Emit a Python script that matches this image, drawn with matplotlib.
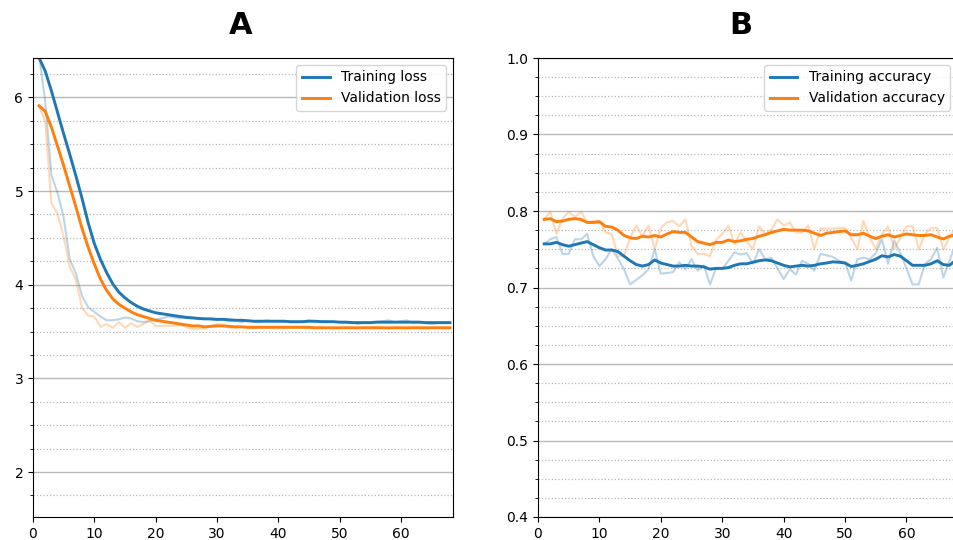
import matplotlib
matplotlib.use("Agg")
import matplotlib.pyplot as plt
from matplotlib.ticker import MultipleLocator

epochs = list(range(1, 69))

train_loss_raw = [6.45, 5.95, 5.17, 4.98, 4.72, 4.27, 4.12, 3.88, 3.76, 3.71,
                  3.66, 3.62, 3.62, 3.63, 3.65, 3.64, 3.61, 3.60, 3.61, 3.63,
                  3.64, 3.66, 3.65, 3.64, 3.66, 3.65, 3.63, 3.64, 3.63, 3.62,
                  3.63, 3.61, 3.62, 3.60, 3.62, 3.61, 3.60, 3.62, 3.61, 3.61,
                  3.60, 3.61, 3.60, 3.61, 3.62, 3.60, 3.61, 3.61, 3.60, 3.60,
                  3.59, 3.60, 3.58, 3.60, 3.59, 3.60, 3.61, 3.62, 3.60, 3.61,
                  3.62, 3.59, 3.60, 3.59, 3.58, 3.59, 3.60, 3.59]
train_loss_smooth = [6.42, 6.28, 6.07, 5.84, 5.61, 5.39, 5.16, 4.92, 4.66, 4.44,
                     4.27, 4.13, 4.01, 3.92, 3.86, 3.81, 3.77, 3.74, 3.72, 3.70,
                     3.69, 3.68, 3.67, 3.66, 3.65, 3.645, 3.64, 3.635, 3.635, 3.63,
                     3.63, 3.625, 3.62, 3.62, 3.615, 3.61, 3.61, 3.61, 3.61, 3.61,
                     3.61, 3.605, 3.605, 3.605, 3.61, 3.61, 3.605, 3.605, 3.605, 3.60,
                     3.60, 3.595, 3.595, 3.595, 3.595, 3.60, 3.60, 3.60, 3.60, 3.60,
                     3.60, 3.60, 3.60, 3.595, 3.595, 3.595, 3.595, 3.595]
val_loss_raw = [5.90, 5.74, 4.87, 4.76, 4.51, 4.19, 4.05, 3.75, 3.67, 3.66,
                3.55, 3.58, 3.54, 3.60, 3.54, 3.59, 3.55, 3.58, 3.62, 3.56,
                3.56, 3.56, 3.56, 3.57, 3.55, 3.53, 3.53, 3.53, 3.56, 3.58,
                3.57, 3.54, 3.54, 3.55, 3.54, 3.54, 3.55, 3.54, 3.54, 3.55,
                3.54, 3.54, 3.55, 3.54, 3.54, 3.54, 3.55, 3.54, 3.53, 3.54,
                3.54, 3.54, 3.53, 3.54, 3.54, 3.55, 3.54, 3.53, 3.54, 3.54,
                3.53, 3.54, 3.54, 3.53, 3.54, 3.54, 3.53, 3.54]
val_loss_smooth = [5.91, 5.85, 5.68, 5.48, 5.27, 5.05, 4.83, 4.60, 4.40, 4.22,
                   4.06, 3.94, 3.85, 3.79, 3.75, 3.71, 3.68, 3.66, 3.64, 3.62,
                   3.61, 3.60, 3.59, 3.58, 3.57, 3.56, 3.56, 3.55, 3.555, 3.56,
                   3.56, 3.555, 3.55, 3.55, 3.545, 3.545, 3.545, 3.545, 3.545, 3.545,
                   3.545, 3.545, 3.545, 3.545, 3.545, 3.54, 3.54, 3.54, 3.54, 3.54,
                   3.54, 3.54, 3.54, 3.54, 3.54, 3.54, 3.54, 3.54, 3.54, 3.54,
                   3.54, 3.54, 3.54, 3.54, 3.54, 3.54, 3.54, 3.54]

train_acc_raw = [0.757, 0.763, 0.766, 0.744, 0.744, 0.763, 0.763, 0.770, 0.741, 0.728,
                 0.737, 0.750, 0.738, 0.724, 0.704, 0.710, 0.716, 0.724, 0.750, 0.718,
                 0.719, 0.720, 0.733, 0.724, 0.737, 0.722, 0.729, 0.704, 0.725, 0.724,
                 0.735, 0.746, 0.743, 0.745, 0.731, 0.750, 0.737, 0.739, 0.725, 0.711,
                 0.724, 0.717, 0.735, 0.731, 0.722, 0.744, 0.742, 0.740, 0.735, 0.733,
                 0.709, 0.737, 0.739, 0.737, 0.745, 0.763, 0.731, 0.7615, 0.745, 0.725,
                 0.704, 0.704, 0.731, 0.737, 0.752, 0.713, 0.735, 0.757]
train_acc_smooth = [0.757, 0.757, 0.759, 0.756, 0.754, 0.756, 0.758, 0.760, 0.756, 0.752,
                    0.749, 0.749, 0.747, 0.741, 0.735, 0.730, 0.728, 0.730, 0.736, 0.732,
                    0.730, 0.728, 0.728, 0.729, 0.728, 0.728, 0.727, 0.724, 0.725, 0.725,
                    0.726, 0.729, 0.731, 0.731, 0.733, 0.735, 0.736, 0.735, 0.732, 0.729,
                    0.727, 0.728, 0.729, 0.728, 0.729, 0.731, 0.732, 0.7335, 0.733, 0.732,
                    0.7275, 0.729, 0.731, 0.734, 0.737, 0.7415, 0.740, 0.743, 0.741, 0.735,
                    0.729, 0.729, 0.729, 0.731, 0.735, 0.730, 0.729, 0.7355]
val_acc_raw = [0.789, 0.799, 0.770, 0.790, 0.799, 0.792, 0.799, 0.785, 0.787, 0.787,
               0.772, 0.770, 0.741, 0.741, 0.765, 0.781, 0.767, 0.781, 0.750, 0.778,
               0.785, 0.787, 0.780, 0.789, 0.754, 0.744, 0.744, 0.741, 0.762, 0.770,
               0.781, 0.757, 0.772, 0.760, 0.750, 0.780, 0.770, 0.776, 0.789, 0.781,
               0.785, 0.772, 0.772, 0.781, 0.750, 0.777, 0.777, 0.777, 0.778, 0.778,
               0.765, 0.750, 0.787, 0.766, 0.750, 0.770, 0.780, 0.750, 0.765, 0.780,
               0.780, 0.750, 0.770, 0.778, 0.778, 0.750, 0.765, 0.780]
val_acc_smooth = [0.789, 0.790, 0.786, 0.787, 0.789, 0.790, 0.789, 0.785, 0.785, 0.786,
                  0.780, 0.779, 0.775, 0.768, 0.765, 0.764, 0.767, 0.766, 0.768, 0.766,
                  0.770, 0.773, 0.772, 0.772, 0.766, 0.760, 0.758, 0.756, 0.759, 0.759,
                  0.762, 0.760, 0.761, 0.763, 0.764, 0.767, 0.769, 0.772, 0.774, 0.776,
                  0.775, 0.775, 0.775, 0.774, 0.771, 0.768, 0.771, 0.772, 0.773, 0.774,
                  0.769, 0.769, 0.771, 0.767, 0.764, 0.767, 0.769, 0.766, 0.768, 0.770,
                  0.769, 0.768, 0.768, 0.769, 0.766, 0.7635, 0.767, 0.769]

panel_titles = ["A", "B"]
loss_labels = ["Training loss", "Validation loss"]
acc_labels = ["Training accuracy", "Validation accuracy"]

BLUE = "#1f77b4"
ORANGE = "#ff7f0e"

fig = plt.figure(figsize=(9.54, 5.40), dpi=100)
W, H = 954.0, 540.0
axA = fig.add_axes([33 / W, 23 / H, 420 / W, 459 / H])
# panel B is clipped by the right edge of the figure in the reference
axB = fig.add_axes([538 / W, 23 / H, 420 / W * (68.5 / 67.6), 459 / H])


def style(ax, major, minor, xmax):
    ax.yaxis.set_major_locator(MultipleLocator(major))
    ax.yaxis.set_minor_locator(MultipleLocator(minor))
    ax.xaxis.set_major_locator(MultipleLocator(10))
    ax.grid(axis="y", which="major", color="#b8b8b8", linewidth=1.0, linestyle="-")
    ax.grid(axis="y", which="minor", color="#b8b8b8", linewidth=0.9, linestyle=":")
    ax.set_axisbelow(True)
    ax.tick_params(labelsize=10)
    ax.set_xlim(0, xmax)


for ax, (tr_raw, tr_s, va_raw, va_s, labels) in zip(
        [axA, axB],
        [(train_loss_raw, train_loss_smooth, val_loss_raw, val_loss_smooth, loss_labels),
         (train_acc_raw, train_acc_smooth, val_acc_raw, val_acc_smooth, acc_labels)]):
    ax.plot(epochs, tr_raw, color=BLUE, alpha=0.3, linewidth=1.5)
    ax.plot(epochs, va_raw, color=ORANGE, alpha=0.3, linewidth=1.5)
    ax.plot(epochs, tr_s, color=BLUE, linewidth=2.1, label=labels[0])
    ax.plot(epochs, va_s, color=ORANGE, linewidth=2.1, label=labels[1])

style(axA, 1, 0.25, 68.5)
axA.set_ylim(1.52, 6.42)
axA.legend(loc="upper right", fontsize=10)
style(axB, 0.1, 0.025, 69.3)
axB.set_ylim(0.4, 1.0)
axB.legend(loc="upper right", fontsize=10, bbox_to_anchor=(0.985, 1.0))

fig.text(241 / W, 1 - 25 / H, panel_titles[0], ha="center", va="center",
         fontsize=22, fontweight="heavy")
fig.text(741 / W, 1 - 25 / H, panel_titles[1], ha="center", va="center",
         fontsize=22, fontweight="heavy")

fig.savefig("out.png", dpi=100)
